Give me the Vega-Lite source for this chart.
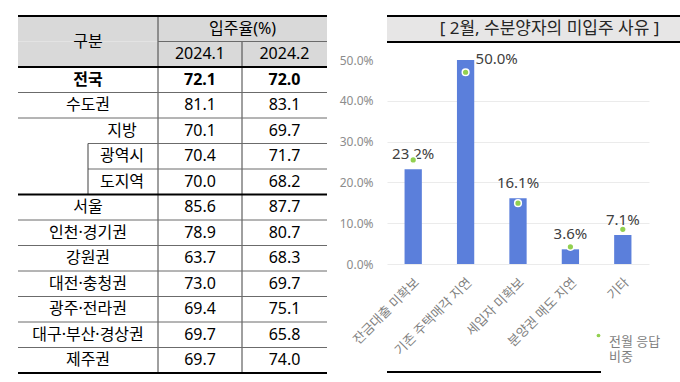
{
  "$schema": "https://vega.github.io/schema/vega-lite/v6.json",
  "padding": {"left": 17, "top": 15, "right": 0, "bottom": 10},
  "background": "white",
  "config": {"view": {"stroke": null}, "font": "Noto Sans, Noto Sans CJK KR"},
  "datasets": {
    "regions": [
      {"name": "전국", "level": 0, "v1": 72.1, "v2": 72.0},
      {"name": "수도권", "level": 0, "v1": 81.1, "v2": 83.1},
      {"name": "지방", "level": 1, "v1": 70.1, "v2": 69.7},
      {"name": "광역시", "level": 2, "v1": 70.4, "v2": 71.7},
      {"name": "도지역", "level": 2, "v1": 70.0, "v2": 68.2},
      {"name": "서울", "level": 0, "v1": 85.6, "v2": 87.7},
      {"name": "인천·경기권", "level": 0, "v1": 78.9, "v2": 80.7},
      {"name": "강원권", "level": 0, "v1": 63.7, "v2": 68.3},
      {"name": "대전·충청권", "level": 0, "v1": 73.0, "v2": 69.7},
      {"name": "광주·전라권", "level": 0, "v1": 69.4, "v2": 75.1},
      {"name": "대구·부산·경상권", "level": 0, "v1": 69.7, "v2": 65.8},
      {"name": "제주권", "level": 0, "v1": 69.7, "v2": 74.0}
    ],
    "reasons": [
      {"reason": "잔금대출 미확보", "cur": 0.232, "prev": 0.255},
      {"reason": "기존 주택매각 지연", "cur": 0.5, "prev": 0.47},
      {"reason": "세입자 미확보", "cur": 0.161, "prev": 0.149},
      {"reason": "분양권 매도 지연", "cur": 0.036, "prev": 0.042},
      {"reason": "기타", "cur": 0.071, "prev": 0.085}
    ]
  },
  "spacing": 11,
  "hconcat": [
    {
      "width": 309,
      "height": 357,
      "layer": [
        {
          "data": {"values": [{"row": "h2"}]},
          "mark": {"type": "rect", "color": "#D9D9D9"},
          "encoding": {
            "x": {"datum": 0, "type": "quantitative", "scale": {"domain": [0, 309], "nice": false, "zero": false}, "axis": null},
            "x2": {"datum": 309},
            "y": {"field": "row", "type": "nominal", "scale": {"type": "band", "domain": ["h1", "h2", "전국", "수도권", "지방", "광역시", "도지역", "서울", "인천·경기권", "강원권", "대전·충청권", "광주·전라권", "대구·부산·경상권", "제주권"], "paddingInner": 0, "paddingOuter": 0}, "axis": null}
          }
        },
        {
          "data": {"values": [{}]},
          "mark": {"type": "rule", "color": "#404040", "strokeWidth": 1},
          "encoding": {"x": {"datum": 224, "type": "quantitative"}}
        },
        {
          "data": {"values": [{"row": "h1"}]},
          "mark": {"type": "rect", "color": "#D9D9D9"},
          "encoding": {
            "x": {"datum": 0, "type": "quantitative"},
            "x2": {"datum": 309},
            "y": {"field": "row", "type": "nominal"}
          }
        },
        {
          "data": {"values": [{}]},
          "mark": {"type": "rule", "color": "#404040", "strokeWidth": 1},
          "encoding": {"x": {"datum": 140, "type": "quantitative"}}
        },
        {
          "data": {"values": [{}]},
          "mark": {"type": "rule", "color": "#6B6B6B", "strokeWidth": 1},
          "encoding": {
            "y": {"datum": "h2", "type": "nominal", "bandPosition": 0},
            "x": {"datum": 140, "type": "quantitative"},
            "x2": {"datum": 309}
          }
        },
        {
          "data": {"name": "regions"},
          "transform": [{"filter": "datum.level < 2 && datum.name !== '전국' && datum.name !== '서울'"}],
          "mark": {"type": "rule", "color": "#6B6B6B", "strokeWidth": 1},
          "encoding": {"y": {"field": "name", "type": "nominal", "bandPosition": 0}}
        },
        {
          "data": {"name": "regions"},
          "transform": [{"filter": "datum.level === 2"}],
          "mark": {"type": "rule", "color": "#6B6B6B", "strokeWidth": 1},
          "encoding": {
            "y": {"field": "name", "type": "nominal", "bandPosition": 0},
            "x": {"datum": 70, "type": "quantitative"},
            "x2": {"datum": 309}
          }
        },
        {
          "data": {"name": "regions"},
          "transform": [{"filter": "datum.level === 2"}],
          "mark": {"type": "rect", "color": "#404040"},
          "encoding": {
            "y": {"field": "name", "type": "nominal"},
            "x": {"datum": 69.5, "type": "quantitative"},
            "x2": {"datum": 70.5}
          }
        },
        {
          "data": {"values": [{}]},
          "mark": {"type": "rule", "color": "#000000", "strokeWidth": 2},
          "encoding": {"y": {"datum": "h1", "type": "nominal", "bandPosition": 0}}
        },
        {
          "data": {"values": [{}]},
          "mark": {"type": "rule", "color": "#000000", "strokeWidth": 2},
          "encoding": {"y": {"datum": "전국", "type": "nominal", "bandPosition": 0}}
        },
        {
          "data": {"values": [{}]},
          "mark": {"type": "rule", "color": "#000000", "strokeWidth": 2},
          "encoding": {"y": {"datum": "서울", "type": "nominal", "bandPosition": 0}}
        },
        {
          "data": {"values": [{}]},
          "mark": {"type": "rule", "color": "#000000", "strokeWidth": 2},
          "encoding": {"y": {"datum": "제주권", "type": "nominal", "bandPosition": 1}}
        },
        {
          "data": {"values": [{"label": "구분"}]},
          "mark": {"type": "text", "fontSize": 16, "color": "#000000"},
          "encoding": {
            "x": {"datum": 70, "type": "quantitative"},
            "y": {"datum": "h2", "type": "nominal", "bandPosition": 0},
            "text": {"field": "label"}
          }
        },
        {
          "data": {"values": [{"label": "입주율(%)"}]},
          "mark": {"type": "text", "fontSize": 16, "color": "#000000"},
          "encoding": {
            "x": {"datum": 224.5, "type": "quantitative"},
            "y": {"datum": "h1", "type": "nominal"},
            "text": {"field": "label"}
          }
        },
        {
          "data": {"values": [{"label": "2024.1"}]},
          "mark": {"type": "text", "fontSize": 16, "color": "#000000"},
          "encoding": {
            "x": {"datum": 182, "type": "quantitative"},
            "y": {"datum": "h2", "type": "nominal"},
            "text": {"field": "label"}
          }
        },
        {
          "data": {"values": [{"label": "2024.2"}]},
          "mark": {"type": "text", "fontSize": 16, "color": "#000000"},
          "encoding": {
            "x": {"datum": 266.5, "type": "quantitative"},
            "y": {"datum": "h2", "type": "nominal"},
            "text": {"field": "label"}
          }
        },
        {
          "data": {"name": "regions"},
          "transform": [{"filter": "datum.level === 0 && datum.name !== '전국'"}],
          "mark": {"type": "text", "fontSize": 16, "color": "#000000"},
          "encoding": {
            "x": {"datum": 70, "type": "quantitative"},
            "y": {"field": "name", "type": "nominal"},
            "text": {"field": "name"}
          }
        },
        {
          "data": {"name": "regions"},
          "transform": [{"filter": "datum.level > 0"}],
          "mark": {"type": "text", "fontSize": 16, "color": "#000000"},
          "encoding": {
            "x": {"datum": 104, "type": "quantitative"},
            "y": {"field": "name", "type": "nominal"},
            "text": {"field": "name"}
          }
        },
        {
          "data": {"name": "regions"},
          "transform": [{"filter": "datum.name !== '전국'"}],
          "mark": {"type": "text", "fontSize": 16, "color": "#000000"},
          "encoding": {
            "x": {"datum": 182, "type": "quantitative"},
            "y": {"field": "name", "type": "nominal"},
            "text": {"field": "v1", "type": "quantitative", "format": ".1f"}
          }
        },
        {
          "data": {"name": "regions"},
          "transform": [{"filter": "datum.name !== '전국'"}],
          "mark": {"type": "text", "fontSize": 16, "color": "#000000"},
          "encoding": {
            "x": {"datum": 266.5, "type": "quantitative"},
            "y": {"field": "name", "type": "nominal"},
            "text": {"field": "v2", "type": "quantitative", "format": ".1f"}
          }
        },
        {
          "data": {"name": "regions"},
          "transform": [{"filter": "datum.name === '전국'"}],
          "mark": {"type": "text", "fontSize": 16, "fontWeight": "bold", "color": "#000000"},
          "encoding": {
            "x": {"datum": 70, "type": "quantitative"},
            "y": {"field": "name", "type": "nominal"},
            "text": {"field": "name"}
          }
        },
        {
          "data": {"name": "regions"},
          "transform": [{"filter": "datum.name === '전국'"}],
          "mark": {"type": "text", "fontSize": 16, "fontWeight": "bold", "color": "#000000"},
          "encoding": {
            "x": {"datum": 182, "type": "quantitative"},
            "y": {"field": "name", "type": "nominal"},
            "text": {"field": "v1", "type": "quantitative", "format": ".1f"}
          }
        },
        {
          "data": {"name": "regions"},
          "transform": [{"filter": "datum.name === '전국'"}],
          "mark": {"type": "text", "fontSize": 16, "fontWeight": "bold", "color": "#000000"},
          "encoding": {
            "x": {"datum": 266.5, "type": "quantitative"},
            "y": {"field": "name", "type": "nominal"},
            "text": {"field": "v2", "type": "quantitative", "format": ".1f"}
          }
        }
      ]
    },
    {
      "spacing": 9,
      "bounds": "full",
      "vconcat": [
        {
          "width": 325,
          "height": 26,
          "data": {"values": [{"title": "[ 2월, 수분양자의 미입주 사유 ]"}]},
          "layer": [
            {
              "mark": {"type": "rect", "color": "#E7E6E6"},
              "encoding": {
                "x": {"datum": 0, "type": "quantitative", "scale": {"domain": [0, 1], "nice": false}, "axis": null},
                "x2": {"datum": 1},
                "y": {"datum": 0, "type": "quantitative", "scale": {"domain": [0, 1], "nice": false, "reverse": true}, "axis": null},
                "y2": {"datum": 1}
              }
            },
            {
              "mark": {"type": "rule", "color": "#000000", "strokeWidth": 2},
              "encoding": {"y": {"datum": 0, "type": "quantitative"}}
            },
            {
              "mark": {"type": "rule", "color": "#000000", "strokeWidth": 2},
              "encoding": {"y": {"datum": 1, "type": "quantitative"}}
            },
            {
              "mark": {"type": "text", "fontSize": 17, "color": "#262626"},
              "encoding": {
                "x": {"datum": 0.5, "type": "quantitative"},
                "y": {"datum": 0.5, "type": "quantitative"},
                "text": {"field": "title"}
              }
            }
          ]
        },
        {
          "spacing": 107,
          "bounds": "flush",
          "vconcat": [
            {
              "width": 262,
              "height": 204,
              "data": {"name": "reasons"},
              "encoding": {
                "x": {
                  "field": "reason", "type": "nominal", "sort": null,
                  "scale": {"paddingInner": 0, "paddingOuter": 0},
                  "axis": {"title": null, "labelAngle": -45, "labelAlign": "right", "labelBaseline": "middle", "ticks": false, "domain": false, "labelColor": "#7F7F7F", "labelFontSize": 13, "labelPadding": 16, "labelOffset": 4, "labelLimit": 200}
                }
              },
              "layer": [
                {
                  "mark": {"type": "bar", "color": "#5B7FDB", "width": {"band": 0.33}},
                  "encoding": {
                    "y": {
                      "field": "cur", "type": "quantitative",
                      "scale": {"domain": [0, 0.5], "nice": false},
                      "axis": {"title": null, "format": ".1%", "values": [0, 0.1, 0.2, 0.3, 0.4, 0.5], "ticks": false, "domain": false, "gridColor": "#EBEBEB", "labelColor": "#8C8C8C", "labelFontSize": 12, "labelPadding": 14, "gridOpacity": {"condition": {"test": "datum.value >= 0.5", "value": 0}, "value": 1}}
                    }
                  }
                },
                {
                  "transform": [{"filter": "datum.cur < 0.5"}],
                  "mark": {"type": "text", "fontSize": 15, "color": "#404040", "dy": -10, "baseline": "alphabetic"},
                  "encoding": {
                    "y": {"field": "cur", "type": "quantitative"},
                    "text": {"field": "cur", "type": "quantitative", "format": ".1%"}
                  }
                },
                {
                  "transform": [{"filter": "datum.cur >= 0.5"}],
                  "mark": {"type": "text", "fontSize": 15, "color": "#404040", "dx": 10, "dy": -1, "align": "left", "baseline": "middle"},
                  "encoding": {
                    "y": {"field": "cur", "type": "quantitative"},
                    "text": {"field": "cur", "type": "quantitative", "format": ".1%"}
                  }
                },
                {
                  "mark": {"type": "point", "filled": true, "size": 45, "stroke": "white", "strokeWidth": 1.5, "opacity": 1},
                  "encoding": {
                    "y": {"field": "prev", "type": "quantitative"},
                    "color": {
                      "datum": "전월 응답 비중", "type": "nominal",
                      "scale": {"range": ["#92D050"]},
                      "legend": {"title": null, "orient": "none", "legendX": 574, "legendY": 313, "padding": 0, "symbolSize": 14, "symbolType": "circle", "symbolStrokeWidth": 0, "labelFontSize": 13, "labelColor": "#7F7F7F", "labelBaseline": "top", "labelExpr": "['전월 응답', '비중']"}
                    }
                  }
                }
              ]
            },
            {
              "width": 262,
              "height": 1,
              "data": {"values": [{}]},
              "mark": {"type": "rule", "color": "#000000", "strokeWidth": 2, "xOffset": -48, "x2Offset": 11},
              "encoding": {"y": {"datum": 0, "type": "quantitative", "scale": {"domain": [0, 1]}, "axis": null}}
            }
          ]
        }
      ]
    }
  ]
}
